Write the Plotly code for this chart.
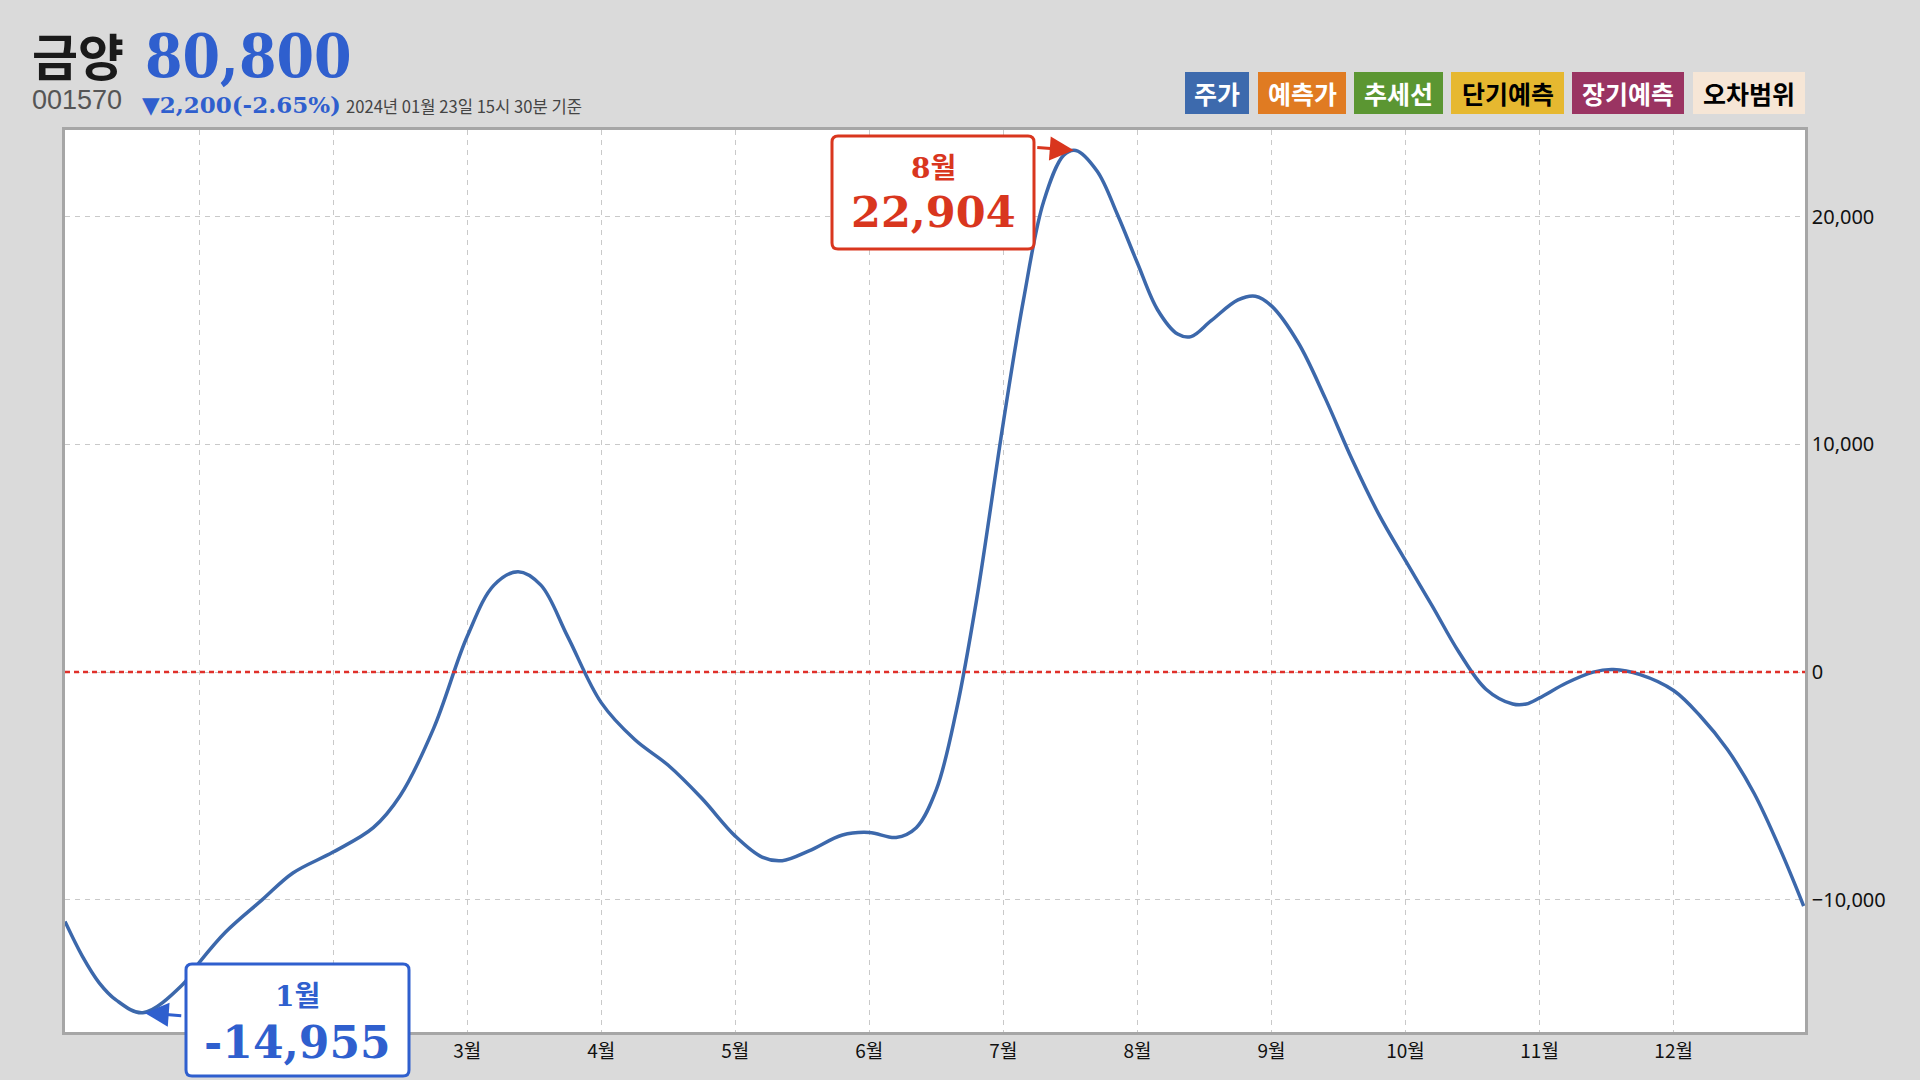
import plotly.graph_objects as go

# ---------------- data ----------------
month_ticks = [1, 2, 3, 4, 5, 6, 7, 8, 9, 10, 11, 12]
month_labels = ["1월", "2월", "3월", "4월", "5월", "6월", "7월", "8월", "9월", "10월", "11월", "12월"]
# the 1월 / 2월 tick labels are hidden behind the minimum callout in the reference
hidden_labels = ["1월", "2월"]

x_pos = [0.0, 0.13, 0.255, 0.38, 0.58, 0.876, 1.0, 1.2, 1.47, 1.7, 2.0, 2.3, 2.5, 2.75,
         3.0, 3.2, 3.38, 3.55, 3.75, 4.0, 4.25, 4.5, 4.75, 5.0, 5.2, 5.35, 5.55, 5.8,
         6.0, 6.2, 6.35, 6.5, 6.65, 6.8, 7.0, 7.15, 7.3, 7.45, 7.54, 7.7, 7.85, 8.0,
         8.15, 8.3, 8.4, 8.55, 8.75, 8.88, 9.0, 9.2, 9.4, 9.6, 9.8, 10.0, 10.2, 10.4,
         10.6, 10.8, 10.9, 11.0, 11.2, 11.4, 11.55, 11.75, 12.0, 12.2, 12.4, 12.6, 12.8, 12.97]
values = [-10950, -12480, -13640, -14390, -14955, -13730, -12760, -11400, -10000, -8820,
          -7900, -6830, -5430, -2470, 1560, 3820, 4410, 3820, 1560, -1340, -2960, -4090,
          -5540, -7200, -8120, -8280, -7850, -7150, -7040, -7260, -6830, -5160, -1670,
          3170, 10970, 16340, 20650, 22690, 22904, 21990, 20100, 17960, 15910, 14840,
          14730, 15430, 16340, 16505, 16080, 14460, 12040, 9355, 6935, 4890, 2900, 860,
          -750, -1400, -1400, -1130, -480, 0, 110, -110, -810, -1940, -3390, -5320,
          -7850, -10270]

y_ticks = [-10000, 0, 10000, 20000]
y_range = [-15800, 23800]

stock_name = "금양"
stock_code = "001570"
price_text = "80,800"
change_text = "▼2,200(-2.65%)"
date_text = "2024년 01월 23일 15시 30분 기준"

legend_items = ["주가", "예측가", "추세선", "단기예측", "장기예측", "오차범위"]
legend_colors = ["#3d6aad", "#e07b22", "#5b9632", "#e6b830", "#9a3462", "#f6e6d6"]
legend_text_colors = ["white", "white", "white", "black", "white", "black"]

max_label = ("8월", "22,904")
max_point = (7.54, 22904)
min_label = ("1월", "-14,955")
min_point = (0.58, -14955)

# ---------------- layout helpers ----------------
W, H = 1920, 1080
L, R, T, B = 65, 115, 130, 48
PW, PH = W - L - R, H - T - B


def px(x):
    return (x - L) / PW


def py(y):
    return (H - B - y) / PH


def rrect(x0, y0, x1, y1, r):
    return (f"M {px(x0 + r)},{py(y0)} L {px(x1 - r)},{py(y0)} "
            f"Q {px(x1)},{py(y0)} {px(x1)},{py(y0 + r)} L {px(x1)},{py(y1 - r)} "
            f"Q {px(x1)},{py(y1)} {px(x1 - r)},{py(y1)} L {px(x0 + r)},{py(y1)} "
            f"Q {px(x0)},{py(y1)} {px(x0)},{py(y1 - r)} L {px(x0)},{py(y0 + r)} "
            f"Q {px(x0)},{py(y0)} {px(x0 + r)},{py(y0)} Z")


SANS = "Noto Sans CJK KR, Noto Sans, sans-serif"
SERIF = "DejaVu Serif, Noto Sans CJK KR, serif"
SERIF_C = "DejaVu Serif Condensed, DejaVu Serif, Noto Sans CJK KR, serif"
BLUE = "#2f5fce"
RED = "#d9361e"

fig = go.Figure()
fig.add_trace(go.Scatter(
    x=x_pos, y=values, mode="lines",
    line=dict(color="#3c68ab", width=3.5, shape="spline", smoothing=1.0),
    hoverinfo="skip", showlegend=False,
))

shapes = []
annotations = []

# zero line
shapes.append(dict(type="line", xref="paper", yref="y", x0=0, x1=1, y0=0, y1=0,
                   line=dict(color="#e0302a", width=2.5, dash="5px,4px"), layer="above"))

# header
annotations += [
    dict(x=px(30), y=py(54), xref="paper", yref="paper", text=f"<b>{stock_name}</b>",
         showarrow=False, xanchor="left", yanchor="middle",
         font=dict(family=SANS, size=50, color="#1a1a1a")),
    dict(x=px(143), y=py(56), xref="paper", yref="paper", text=f"<b>{price_text}</b>",
         showarrow=False, xanchor="left", yanchor="middle",
         font=dict(family=SERIF_C, size=60, color=BLUE)),
    dict(x=px(30), y=py(100), xref="paper", yref="paper", text=stock_code,
         showarrow=False, xanchor="left", yanchor="middle",
         font=dict(family="Liberation Sans, Noto Sans, sans-serif", size=27, color="#555555")),
    dict(x=px(140), y=py(104), xref="paper", yref="paper", text=f"<b>{change_text}</b>",
         showarrow=False, xanchor="left", yanchor="middle",
         font=dict(family=SERIF, size=23, color=BLUE)),
    dict(x=px(344), y=py(106), xref="paper", yref="paper", text=date_text,
         showarrow=False, xanchor="left", yanchor="middle",
         font=dict(family=SANS, size=16.6, color="#444444")),
]

# legend boxes
leg_x = [(1185, 1249), (1258, 1346), (1354, 1443), (1451, 1564), (1572, 1684), (1693, 1805)]
for (a, b), txt, col, tcol in zip(leg_x, legend_items, legend_colors, legend_text_colors):
    shapes.append(dict(type="rect", xref="paper", yref="paper", x0=px(a), x1=px(b),
                       y0=py(114), y1=py(72), fillcolor=col, line=dict(width=0), layer="above"))
    annotations.append(dict(x=px((a + b) / 2), y=py(93), xref="paper", yref="paper",
                            text=f"<b>{txt}</b>", showarrow=False, xanchor="center",
                            yanchor="middle", font=dict(family=SANS, size=25, color=tcol)))

# max callout
shapes.append(dict(type="path", xref="paper", yref="paper", path=rrect(832, 136, 1034, 249, 6),
                   fillcolor="white", line=dict(color=RED, width=3), layer="above"))
annotations += [
    dict(x=px(933), y=py(169), xref="paper", yref="paper", text=f"<b>{max_label[0]}</b>",
         showarrow=False, xanchor="center", yanchor="middle",
         font=dict(family=SERIF, size=28, color=RED)),
    dict(x=px(933), y=py(212), xref="paper", yref="paper", text=f"<b>{max_label[1]}</b>",
         showarrow=False, xanchor="center", yanchor="middle",
         font=dict(family=SERIF, size=43, color=RED)),
    dict(x=max_point[0], y=max_point[1], xref="x", yref="y", text="", showarrow=True,
         ax=-40, ay=-3, arrowhead=2, arrowsize=1.6, arrowwidth=3, arrowcolor=RED, standoff=2),
]

# min callout
shapes.append(dict(type="path", xref="paper", yref="paper", path=rrect(186, 964, 409, 1076, 6),
                   fillcolor="white", line=dict(color=BLUE, width=3), layer="above"))
annotations += [
    dict(x=px(297), y=py(996), xref="paper", yref="paper", text=f"<b>{min_label[0]}</b>",
         showarrow=False, xanchor="center", yanchor="middle",
         font=dict(family=SERIF, size=28, color=BLUE)),
    dict(x=px(297), y=py(1042), xref="paper", yref="paper", text=f"<b>{min_label[1]}</b>",
         showarrow=False, xanchor="center", yanchor="middle",
         font=dict(family=SERIF, size=44, color=BLUE)),
    dict(x=min_point[0], y=min_point[1], xref="x", yref="y", text="", showarrow=True,
         ax=40, ay=3, arrowhead=2, arrowsize=1.6, arrowwidth=3, arrowcolor=BLUE, standoff=2),
]

tick_text = ["" if lab in hidden_labels else lab for lab in month_labels]

fig.update_layout(
    width=W, height=H,
    margin=dict(l=L, r=R, t=T, b=B, pad=0),
    paper_bgcolor="#dadada", plot_bgcolor="white",
    shapes=shapes, annotations=annotations,
    showlegend=False,
)
fig.update_xaxes(
    range=[0, 12.98], tickvals=month_ticks, ticktext=tick_text,
    showgrid=True, gridcolor="#c9c9c9", gridwidth=1, griddash="5px,5px",
    zeroline=False, showline=True, linecolor="#a6a6a6", linewidth=2.5, mirror=True,
    ticks="", tickfont=dict(family=SANS, size=19, color="#111111"),
    automargin=False,
)
fig.update_yaxes(
    range=y_range, tickvals=y_ticks, tickformat=",", side="right",
    showgrid=True, gridcolor="#c9c9c9", gridwidth=1, griddash="5px,5px",
    zeroline=False, showline=True, linecolor="#a6a6a6", linewidth=2.5, mirror=True,
    ticks="", tickfont=dict(family="Noto Sans, sans-serif", size=20, color="#111111"),
    automargin=False,
)

fig.write_html("out.html", config={"displayModeBar": False},
               post_script="document.body.style.margin='0';document.body.style.overflow='hidden';")
